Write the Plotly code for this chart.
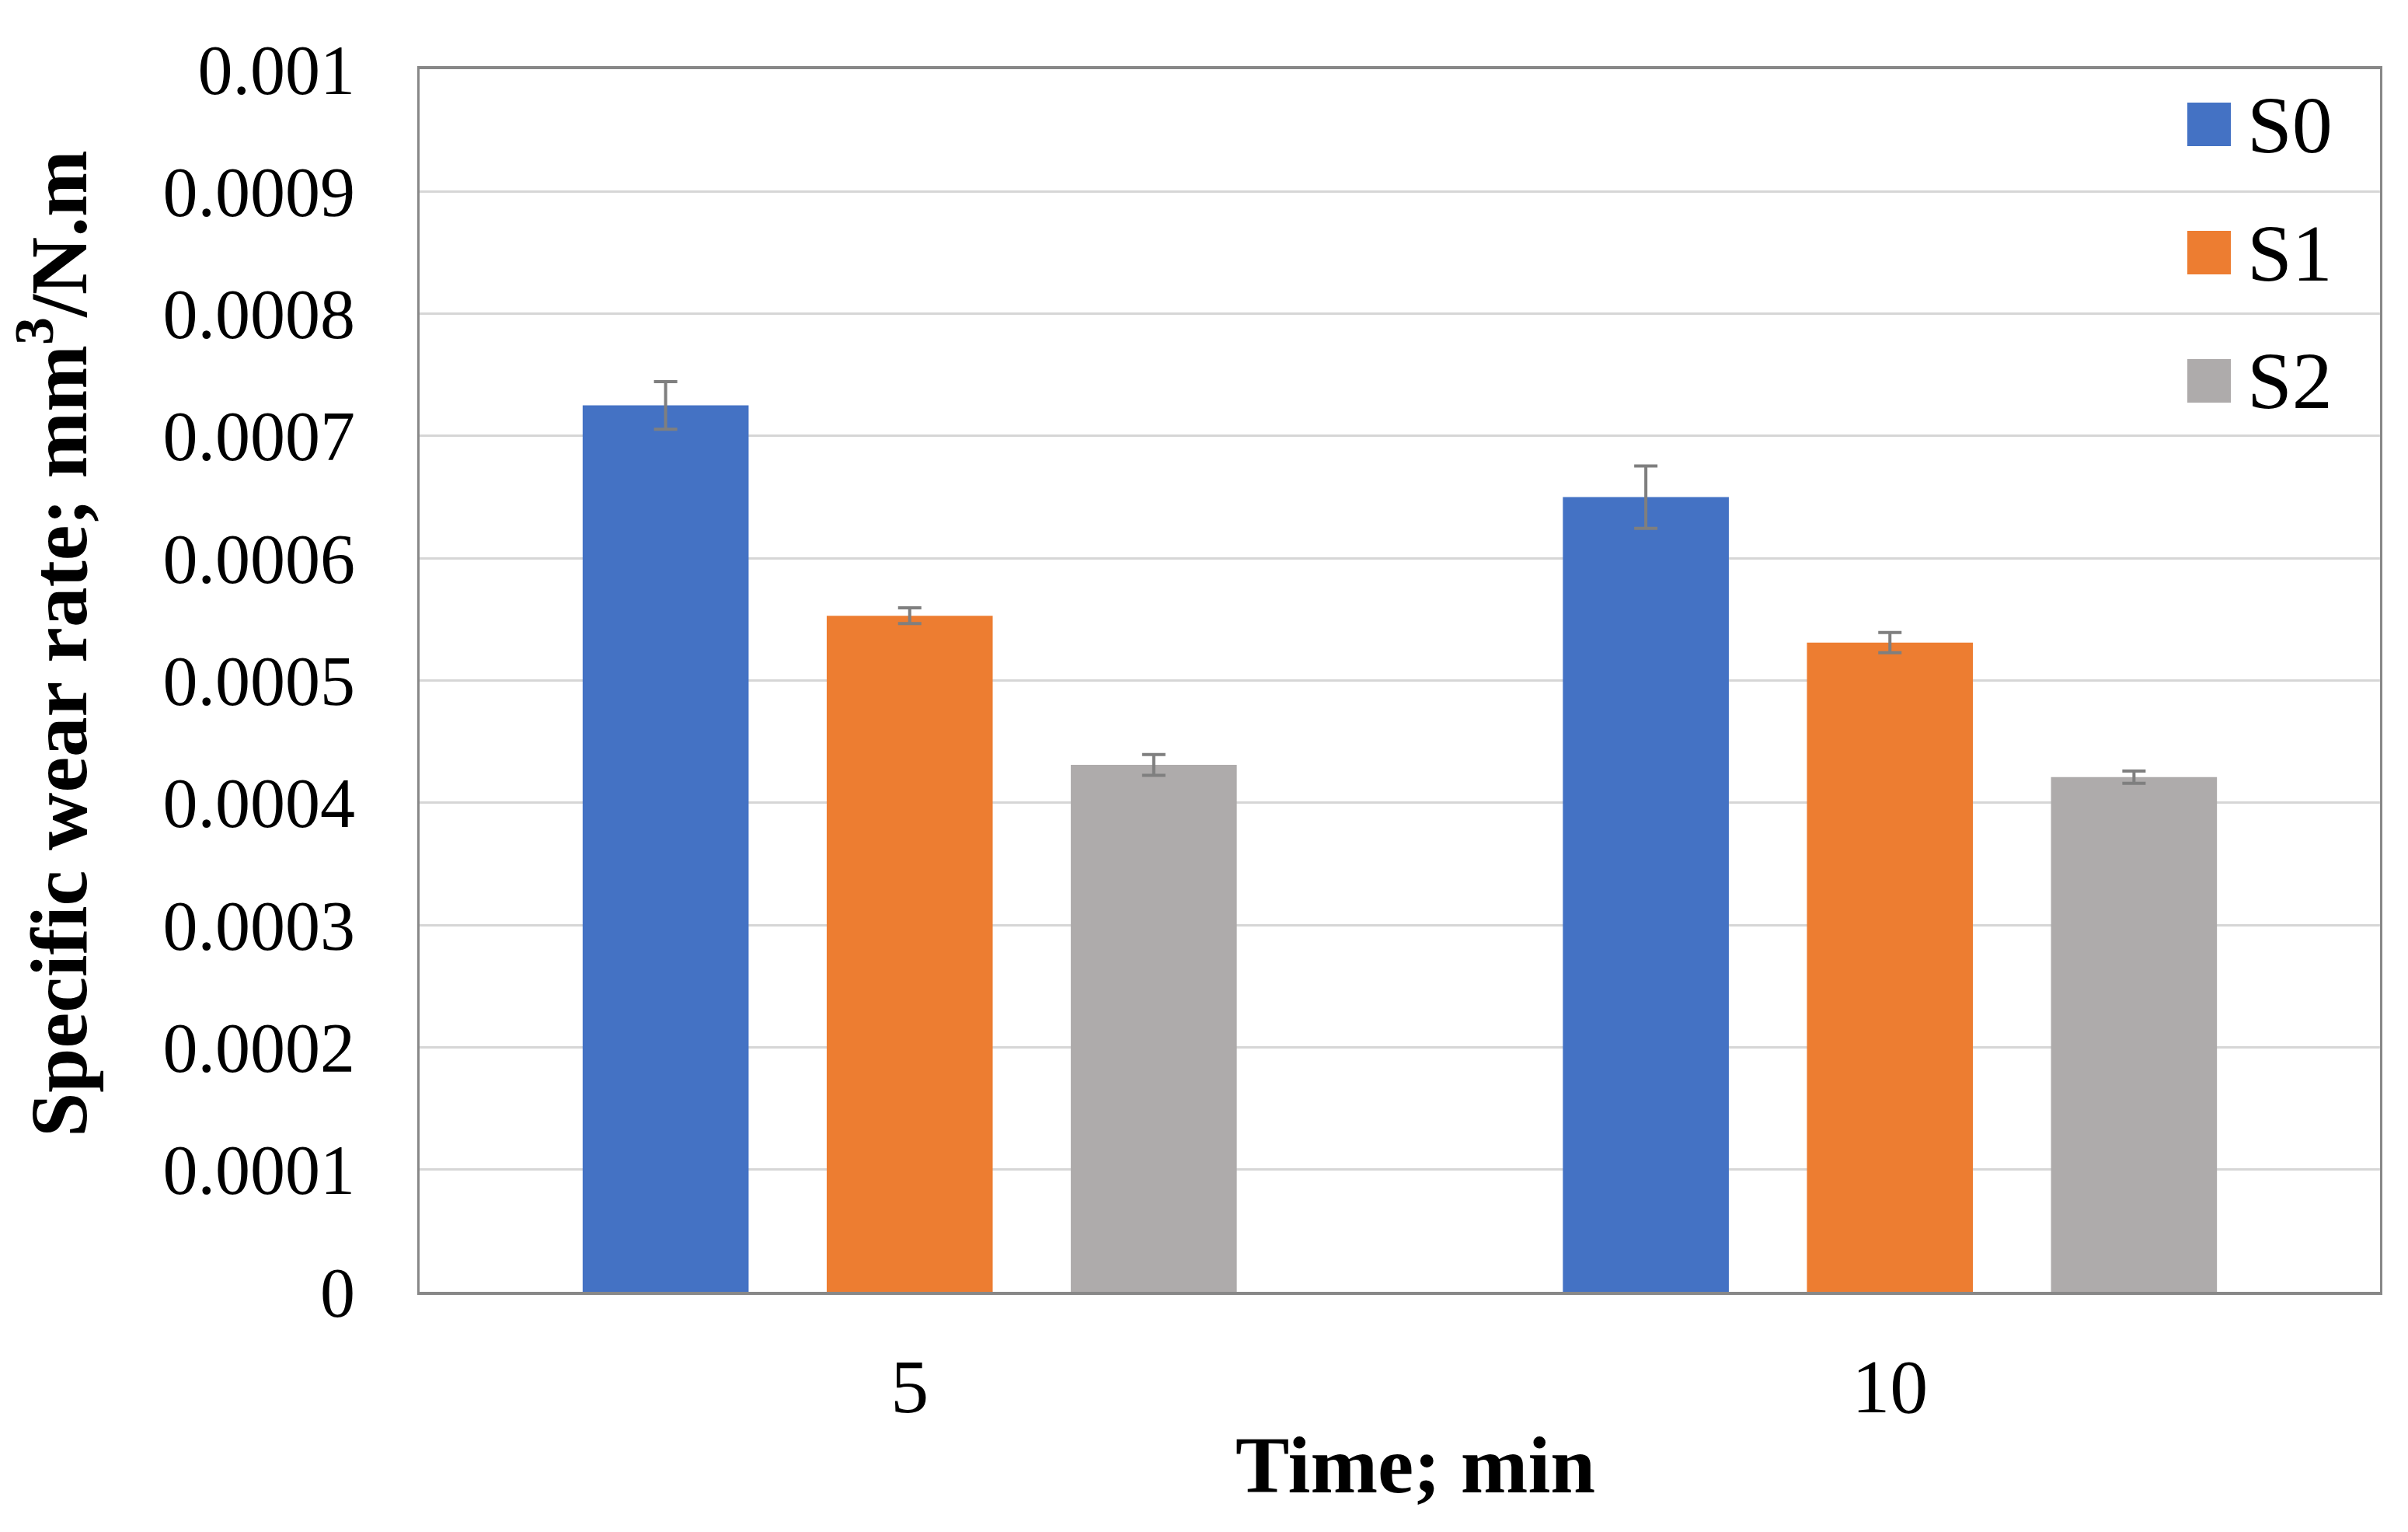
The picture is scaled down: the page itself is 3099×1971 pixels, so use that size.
import plotly.graph_objects as go

categories = ["5", "10"]
series_names = ["S0", "S1", "S2"]
s0_values = [0.000725, 0.000650]
s1_values = [0.000553, 0.000531]
s2_values = [0.000431, 0.000421]
s0_errors = [0.0000195, 0.0000255]
s1_errors = [0.0000065, 0.0000083]
s2_errors = [0.0000085, 0.0000050]
y_tick_values = [0, 0.0001, 0.0002, 0.0003, 0.0004, 0.0005, 0.0006, 0.0007, 0.0008, 0.0009, 0.001]
y_tick_labels = ["0", "0.0001", "0.0002", "0.0003", "0.0004", "0.0005", "0.0006", "0.0007", "0.0008", "0.0009", "0.001"]
colors = ["#4472C4", "#ED7D31", "#AEABAB"]

FONT = "Liberation Serif"
values = [s0_values, s1_values, s2_values]
errors = [s0_errors, s1_errors, s2_errors]

fig = go.Figure()
for name, vals, errs, col in zip(series_names, values, errors, colors):
    fig.add_trace(go.Bar(
        x=categories, y=vals, name=name,
        marker=dict(color=col, line=dict(width=0)),
        error_y=dict(type="data", array=errs, visible=True,
                     color="#7F7F7F", thickness=4, width=15),
        showlegend=False,
    ))

OFF = 8  # page body margin
W, H = 3099 - OFF, 1971 - OFF
# target plot area in screen pixels: x 540..3063, y 89..1662
L = 540 - OFF
T = 89 - OFF
R = (OFF + W) - 3063
B = (OFF + H) - 1662

fig.update_layout(
    width=W, height=H,
    margin=dict(l=L, r=R, t=T, b=B),
    paper_bgcolor="white", plot_bgcolor="white",
    barmode="group", bargap=0.253, bargroupgap=0.32,
    font=dict(family=FONT, color="black"),
)
fig.update_xaxes(
    type="category", categoryorder="array", categoryarray=categories,
    showline=True, linecolor="#888888", linewidth=4, mirror=True,
    showgrid=False, ticks="", tickfont=dict(size=98, family=FONT),
    ticklabelstandoff=33,
)
fig.update_yaxes(
    range=[0, 0.001], tickvals=y_tick_values, ticktext=y_tick_labels,
    showline=True, linecolor="#888888", linewidth=3, mirror=True,
    showgrid=True, gridcolor="#D6D6D6", gridwidth=3,
    zeroline=False, ticks="", tickfont=dict(size=90, family=FONT),
    ticklabelstandoff=62,
)

pw = 3063 - 540
ph = 1662 - 89
def px(x):
    return (x - 540) / pw
def py(y):
    return 1 - (y - 89) / ph

annotations = [
    dict(text="<b>Specific wear rate; mm<sup>3</sup>/N.m</b>", xref="paper", yref="paper",
         x=px(68), y=py(828), textangle=-90, showarrow=False,
         xanchor="center", yanchor="middle", font=dict(size=103, family=FONT, color="black")),
    dict(text="<b>Time; min</b>", xref="paper", yref="paper",
         x=px(1821), y=py(1884), showarrow=False,
         xanchor="center", yanchor="middle", font=dict(size=104, family=FONT, color="black")),
]
shapes = []
legend_y = [160, 325, 490]
half = 28
for name, col, ly in zip(series_names, colors, legend_y):
    shapes.append(dict(type="rect", xref="paper", yref="paper",
                       x0=px(2843 - half), x1=px(2843 + half),
                       y0=py(ly + half), y1=py(ly - half),
                       fillcolor=col, line=dict(width=0)))
    annotations.append(dict(text=name, xref="paper", yref="paper",
                            x=px(2890), y=py(ly), showarrow=False,
                            xanchor="left", yanchor="middle",
                            font=dict(size=104, family=FONT, color="black")))
fig.update_layout(annotations=annotations, shapes=shapes)

fig.write_html("out.html")
